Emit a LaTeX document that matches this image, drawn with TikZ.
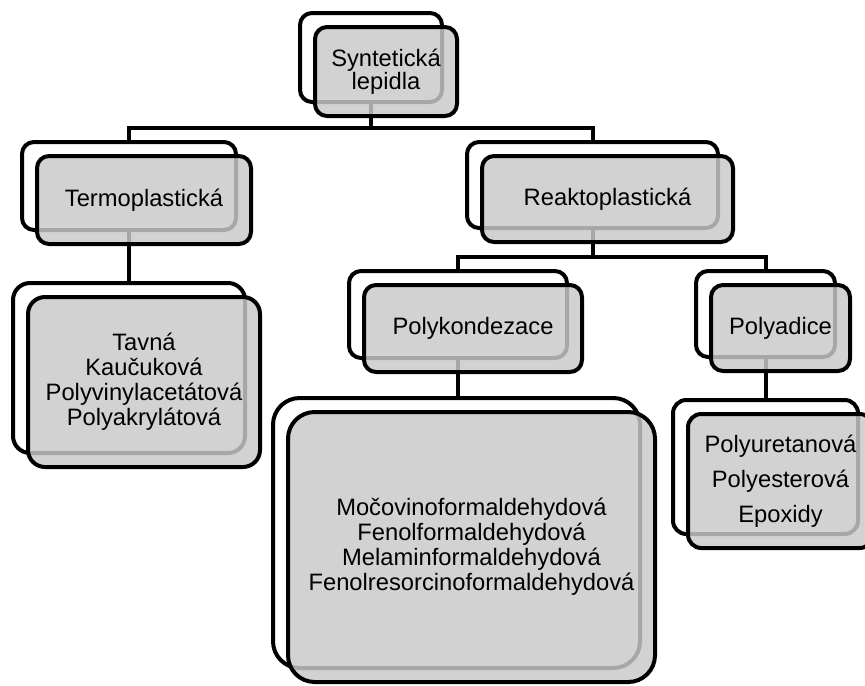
\documentclass[tikz,border=0pt]{standalone}
\usepackage{fontspec}
\setmainfont{Liberation Sans}
\begin{document}
\begin{tikzpicture}[x=0.75pt,y=-0.75pt,
    back/.style={draw,line width=3pt,fill=white,inner sep=0pt},
    front/.style={draw,line width=3pt,fill=black!21,fill opacity=0.83,text opacity=1,
      inner sep=0pt,align=center,font=\fontsize{17.8}{18.75}\selectfont},
    boxsize/.style 2 args={minimum width=#1*0.75pt,minimum height=#2*0.75pt},
    link/.style={line width=3pt}]
    \useasboundingbox (0,0) rectangle (865,686);

    \node[back,boxsize={142}{89},rounded corners=9pt] (top-b) at (371,57.5) {};
    \node[back,boxsize={214}{88},rounded corners=9pt] (termo-b) at (129,186) {};
    \node[back,boxsize={251}{86},rounded corners=9pt] (reakto-b) at (592.5,185) {};
    \node[back,boxsize={232}{170},rounded corners=12.75pt] (leaf1-b) at (129,368) {};
    \node[back,boxsize={218}{87},rounded corners=9pt] (polyk-b) at (458,314.5) {};
    \node[back,boxsize={139}{86},rounded corners=9pt] (polya-b) at (765.5,314) {};
    \node[back,boxsize={367}{270},rounded corners=20pt] (leaf2-b) at (456.5,533) {};
    \node[back,boxsize={185}{134},rounded corners=10pt] (leaf3-b) at (765.5,467) {};

    \coordinate (bus1) at (0,128);
    \coordinate (bus2) at (0,257);
    \draw[link] (top-b.south) -- (top-b.south |- bus1);
    \draw[link] (termo-b.north) |- (bus1 -| reakto-b.north) -- (reakto-b.north);
    \draw[link] (termo-b.south) -- (leaf1-b.north);
    \draw[link] (reakto-b.south) -- (reakto-b.south |- bus2);
    \draw[link] (polyk-b.north) |- (bus2 -| polya-b.north) -- (polya-b.north);
    \draw[link] (polyk-b.south) -- (polyk-b.south |- leaf2-b.north);
    \draw[link] (polya-b.south) -- (leaf3-b.north);

    \node[front,boxsize={142}{89},rounded corners=9pt,font=\fontsize{17.8}{16.5}\selectfont]
      (top) at ([shift={(15,14)}]top-b.center) {Syntetická\\lepidla};
    \node[front,boxsize={214}{88},rounded corners=9pt] (termo) at ([shift={(15,14)}]termo-b.center) {Termoplastická};
    \node[front,boxsize={251}{86},rounded corners=9pt] (reakto) at ([shift={(15,14)}]reakto-b.center) {Reaktoplastická};
    \node[front,boxsize={232}{170},rounded corners=12.75pt] (leaf1) at ([shift={(15,14)}]leaf1-b.center)
      {Tavná\\Kaučuková\\Polyvinylacetátová\\Polyakrylátová};
    \node[front,boxsize={218}{87},rounded corners=9pt] (polyk) at ([shift={(15,14)}]polyk-b.center) {Polykondezace};
    \node[front,boxsize={139}{86},rounded corners=9pt] (polya) at ([shift={(15,14)}]polya-b.center) {Polyadice};
    \node[front,boxsize={367}{270},rounded corners=20pt] (leaf2) at ([shift={(15,14)}]leaf2-b.center)
      {Močovinoformaldehydová\\Fenolformaldehydová\\Melaminformaldehydová\\Fenolresorcinoformaldehydová};
    \node[front,boxsize={185}{134},rounded corners=10pt,font=\fontsize{17.8}{26.25}\selectfont]
      (leaf3) at ([shift={(15,14)}]leaf3-b.center) {Polyuretanová\\Polyesterová\\Epoxidy};
\end{tikzpicture}
\end{document}
